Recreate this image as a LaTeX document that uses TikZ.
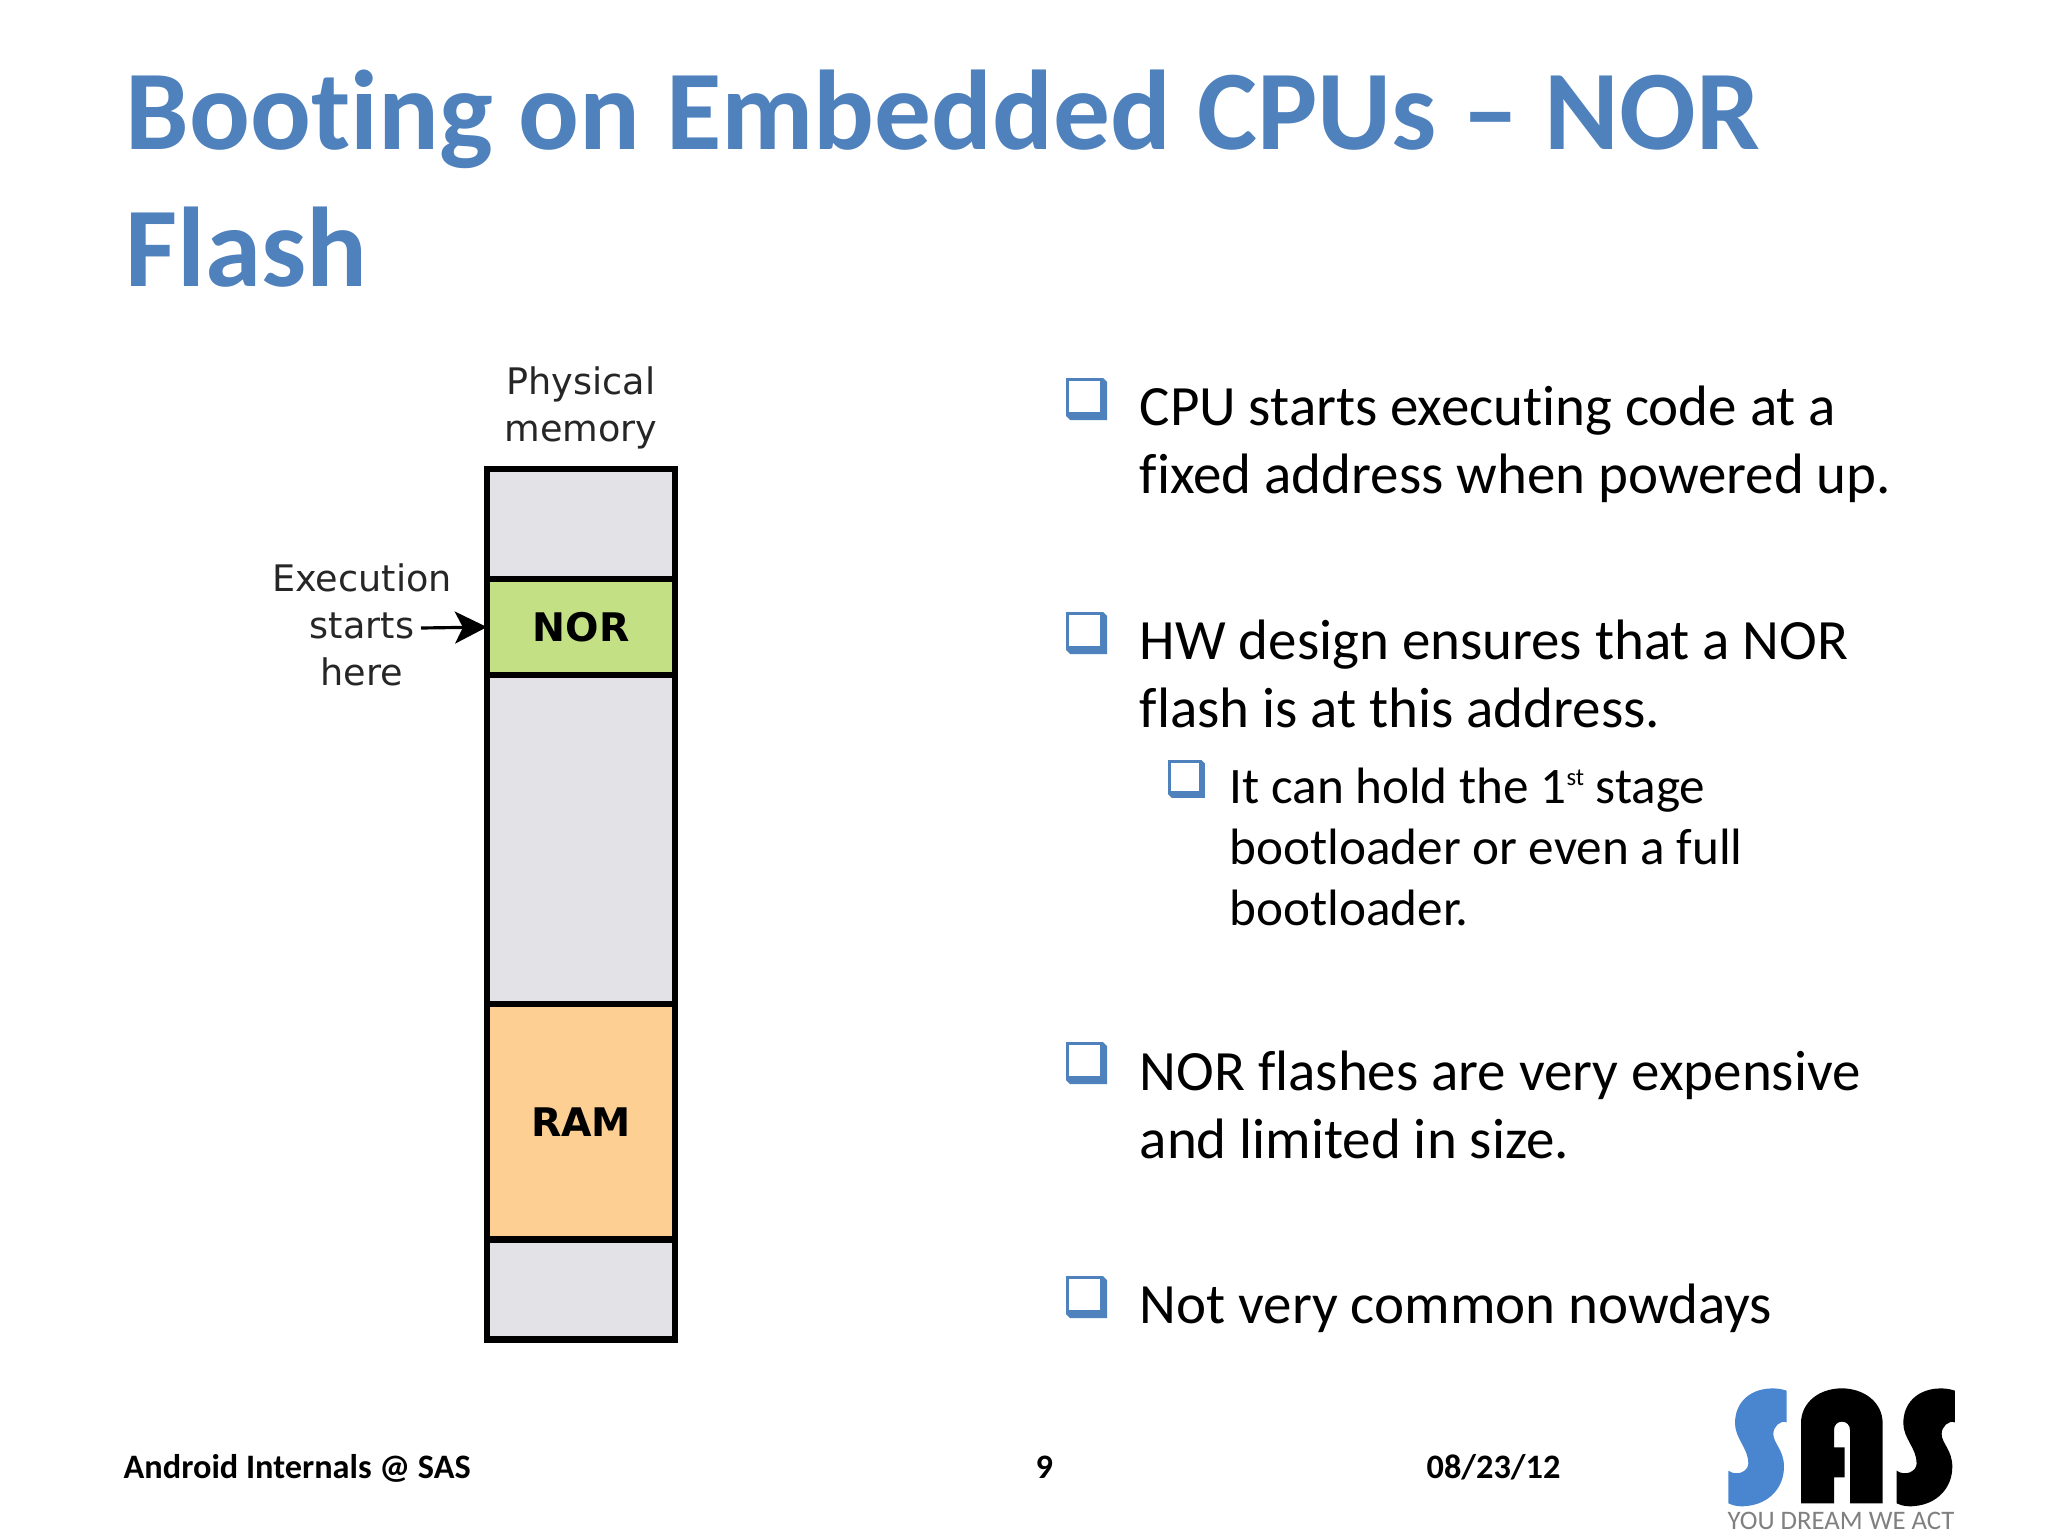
\documentclass[tikz,border=0pt]{standalone}
\usepackage{fontspec}
\setmainfont[Ligatures=NoCommon]{Carlito}
\newfontfamily\dejavu{DejaVu Sans}
\usetikzlibrary{positioning,arrows.meta}
\definecolor{sasblue}{HTML}{4F81BD}
\definecolor{logoblue}{HTML}{4A85CF}
\definecolor{memgray}{HTML}{E3E2E6}
\definecolor{norgreen}{HTML}{C3E184}
\definecolor{ramorange}{HTML}{FDCF92}
\tikzset{
    qbox/.pic={
        \fill[sasblue] (0,0) -- (37,0) -- (41,4) -- (41,42) -- (4,42) -- (0,38) -- cycle;
        \fill[white] (3,3) rectangle (34,34);
    },
    sletter/.pic={
        \fill[pic actions] (320,92) .. controls (300,85) and (280,84) .. (262,86)
            .. controls (205,92) and (165,130) .. (165,190)
            .. controls (165,235) and (205,265) .. (205,310)
            .. controls (205,335) and (170,350) .. (145,332)
            -- (145,430) .. controls (165,440) and (185,440) .. (200,438)
            .. controls (265,432) and (312,385) .. (312,320)
            .. controls (312,270) and (280,250) .. (280,222)
            .. controls (280,200) and (300,180) .. (320,187) -- cycle;
    }
}
\begin{document}
\begin{tikzpicture}[x=0.01cm,y=-0.01cm]
    \tikzstyle{memcell}=[draw=black, line width=1.8pt, inner sep=0pt, outer sep=0pt, minimum width=1.88cm, text=black]
    \tikzstyle{memlabel}=[font=\dejavu\fontsize{11.2}{13}\selectfont\bfseries]
    \tikzstyle{thinlabel}=[align=center, inner sep=0pt, font=\dejavu\fontsize{10.4}{13.3}\selectfont, text=black!85]
    \tikzstyle{marrs}=[line width=0.9pt,-{Stealth[length=0.32cm,width=0.32cm,inset=0.08cm]}]
    \tikzstyle{slidetitle}=[anchor=base west, inner sep=0pt, text=sasblue, font=\fontsize{32.25}{39}\selectfont\bfseries]
    \tikzstyle{lvlone}=[anchor=base west, inner sep=0pt, align=left, font=\fontsize{16.2}{19.3}\selectfont]
    \tikzstyle{lvltwo}=[anchor=base west, inner sep=0pt, align=left, font=\fontsize{14.55}{17.3}\selectfont]
    \tikzstyle{footer}=[anchor=base west, inner sep=0pt, font=\fontsize{9.75}{12}\selectfont\bfseries]

    \useasboundingbox (0,0) rectangle (2048,1536);

    % title
    \node[slidetitle] (titleone) at (125,149) {Booting on Embedded CPUs -- NOR};
    \node[slidetitle] (titletwo) at (125,286) {Flash};

    % memory map
    \node[memcell, fill=memgray, minimum height=1.10cm] (topfree) at (581,524) {};
    \node[memcell, fill=norgreen, minimum height=0.96cm, memlabel, below=0pt of topfree] (nor) {NOR};
    \node[memcell, fill=memgray, minimum height=3.29cm, below=0pt of nor] (midfree) {};
    \node[memcell, fill=ramorange, minimum height=2.35cm, memlabel, below=0pt of midfree] (ram) {RAM};
    \node[memcell, fill=memgray, minimum height=1.00cm, below=0pt of ram] (botfree) {};

    \node[thinlabel, above=0.19cm of topfree] (physmem) {Physical\\memory};
    \node[thinlabel, anchor=center] (exec) at (362,625) {Execution\\starts\\here};

    \coordinate (arrstart) at (421,628);
    \draw[marrs] (arrstart) -- (nor.west);

    % bullets
    \pic at (1066,378) {qbox};
    \node[lvlone] (pointa) at (1139,493) {CPU starts executing code at a\\fixed address when powered up.};

    \pic at (1066,612) {qbox};
    \node[lvlone] (pointb) at (1139,727) {HW design ensures that a NOR\\flash is at this address.};

    \pic[scale=0.9] at (1168,760) {qbox};
    \node[lvltwo] (pointc) at (1229,925) {It can hold the 1\raisebox{0.75ex}{\fontsize{7}{8}\selectfont st} stage\\bootloader or even a full\\bootloader.};

    \pic at (1066,1042) {qbox};
    \node[lvlone] (pointd) at (1139,1158) {NOR flashes are very expensive\\and limited in size.};

    \pic at (1066,1276) {qbox};
    \node[lvlone] (pointe) at (1139,1323) {Not very common nowdays};

    % footer
    \node[footer] (fleft) at (123,1478) {Android Internals @ SAS};
    \node[footer] (fmid) at (1035,1478) {9};
    \node[footer] (fright) at (1426,1478) {08/23/12};

    % logo
    \begin{scope}[shift={(1680,1360)},scale=0.3333]
        \pic[fill=logoblue,transform shape] at (0,0) {sletter};
        \pic[fill=black,transform shape] at (505,0) {sletter};
        \fill[black] (363,430) -- (363,190) .. controls (363,125) and (420,85) .. (485,85)
            .. controls (550,85) and (608,125) .. (608,190) -- (608,430) -- (510,430) -- (510,210)
            .. controls (510,195) and (500,185) .. (486,185) .. controls (472,185) and (462,195) .. (462,210)
            -- (462,262) -- (494,262) -- (494,352) -- (462,352) -- (462,430) -- cycle;
    \end{scope}
    \node[inner sep=0pt, text=black!50, font=\fontsize{7.6}{8}\selectfont] (slogan) at (1841,1521) {YOU DREAM WE ACT};
\end{tikzpicture}
\end{document}
